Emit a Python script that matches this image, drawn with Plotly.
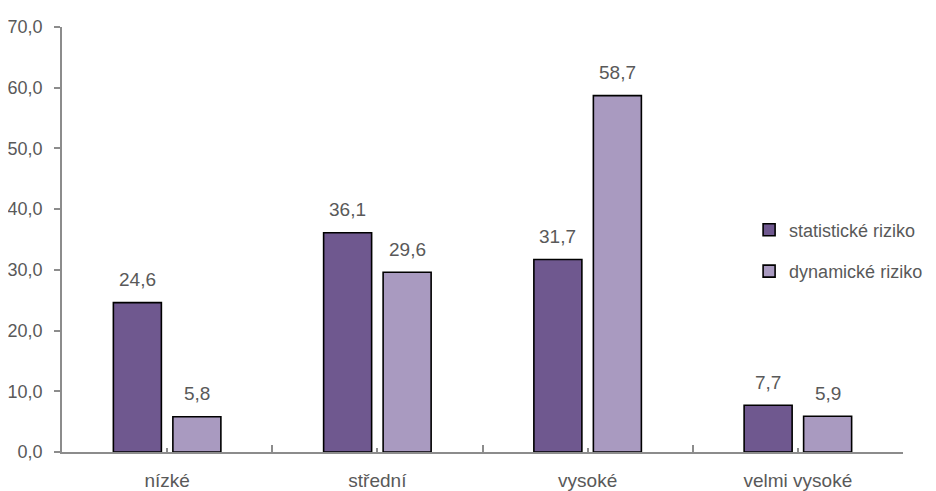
import plotly.graph_objects as go

categories = ["nízké", "střední", "vysoké", "velmi vysoké"]
statisticke = [24.6, 36.1, 31.7, 7.7]
dynamicke = [5.8, 29.6, 58.7, 5.9]
series_names = ["statistické riziko", "dynamické riziko"]
y_ticks = [0, 10, 20, 30, 40, 50, 60, 70]

colors = ["#6F588F", "#A99AC0"]
font_family = "Liberation Sans, Arial, sans-serif"
text_color = "#595959"
axis_color = "#8C8C8C"

xpos = list(range(len(categories)))

fig = go.Figure()
for i, (name, vals) in enumerate(zip(series_names, [statisticke, dynamicke])):
    fig.add_trace(go.Bar(
        x=xpos, y=vals, name=name,
        marker=dict(color=colors[i], line=dict(color="black", width=1.6)),
        legendgroup=f"g{i}",
    ))

def fmt(v):
    return f"{v:.1f}".replace(".", ",")

offset = 0.1415
for i, vals in enumerate([statisticke, dynamicke]):
    dx = -offset if i == 0 else offset
    for xi, v in zip(xpos, vals):
        fig.add_annotation(x=xi + dx, y=v, xref="x", yref="y", text=fmt(v),
                           showarrow=False, yanchor="middle", yshift=23,
                           font=dict(family=font_family, size=19, color=text_color))

# page body has an 8px margin, so the figure is sized to fit the window
fig.update_layout(
    width=928, height=483,
    margin=dict(l=54, r=33, t=19, b=39, autoexpand=False),
    paper_bgcolor="white", plot_bgcolor="white",
    barmode="group", bargap=0.434, bargroupgap=0.193,
    separators=", ",
    font=dict(family=font_family, size=19, color=text_color),
    showlegend=True,
    legend=dict(x=0.817, y=0.474, xanchor="left", yanchor="middle",
                bgcolor="rgba(0,0,0,0)", tracegroupgap=15,
                font=dict(family=font_family, size=18, color=text_color),
                itemwidth=30),
    xaxis=dict(
        range=[-0.5, 3.5], tickmode="array", tickvals=xpos, ticktext=categories,
        showline=True, linecolor=axis_color, linewidth=1.5,
        ticks="inside", ticklen=4, tickcolor=axis_color, tickwidth=1.5,
        showgrid=False, zeroline=False, ticklabelstandoff=10, automargin=False,
        minor=dict(tickmode="array", tickvals=[-0.5, 0.5, 1.5, 2.5, 3.5],
                   ticks="inside", ticklen=7, tickcolor=axis_color, tickwidth=1.5,
                   showgrid=False),
        tickfont=dict(family=font_family, size=19, color=text_color),
    ),
    yaxis=dict(
        range=[0, 70], tickmode="array", tickvals=y_ticks, tickformat=".1f",
        showline=True, linecolor=axis_color, linewidth=1.5,
        ticks="outside", ticklen=6, tickcolor=axis_color, tickwidth=1.5,
        showgrid=False, zeroline=False, ticklabelstandoff=8, automargin=False,
        tickfont=dict(family=font_family, size=18, color=text_color),
    ),
)

fig.write_html("out.html")
